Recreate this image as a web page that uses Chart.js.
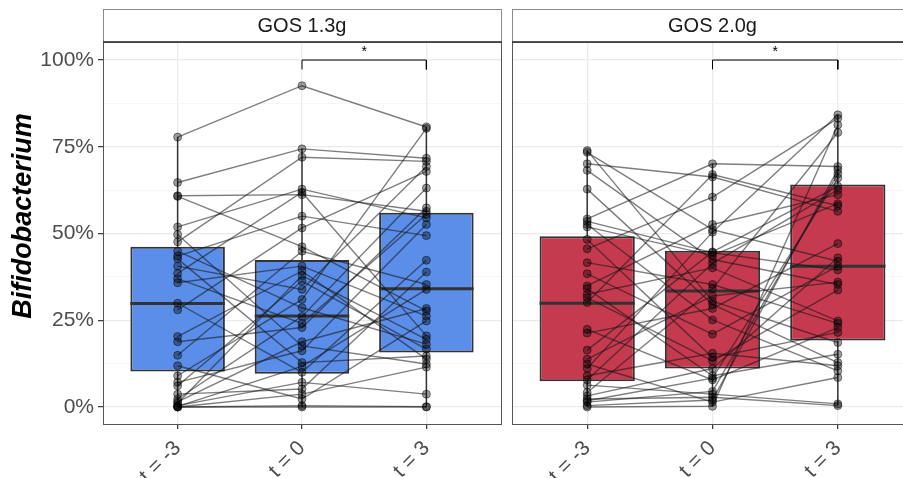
<!DOCTYPE html>
<html>
<head>
<meta charset="utf-8">
<script src="https://cdn.jsdelivr.net/npm/chart.js@4.4.0/dist/chart.umd.min.js"></script>
<style>
  html, body { margin: 0; padding: 0; background: #fff; width: 903px; height: 478px; overflow: hidden; }
  .panel { position: absolute; top: 0; }
</style>
</head>
<body>
<canvas id="panel1" class="panel" width="506" height="478" style="left:0"></canvas>
<canvas id="panel2" class="panel" width="420" height="478" style="left:506px"></canvas>
<script>
// categories and facet names
const timeLabels = ['t = -3', 't = 0', 't = 3'];
const panelLabels = ['GOS 1.3g', 'GOS 2.0g'];
const yTicks = [0, 0.25, 0.5, 0.75, 1];
const yMinorTicks = [0.125, 0.375, 0.625, 0.875];

// per-subject relative abundance, GOS 1.3g (same index = same subject)
const gos13Pre  = [0.778, 0.647, 0.609, 0.607, 0.519, 0.497, 0.476, 0.449, 0.435, 0.427, 0.406, 0.385, 0.370, 0.358, 0.299, 0.280,
                   0.203, 0.188, 0.149, 0.119, 0.090, 0.071, 0.061, 0.037, 0.023, 0.015, 0.011, 0.004, 0.002, 0.000, 0.000, 0.000];
const gos13Base = [0.926, 0.744, 0.612, 0.462, 0.628, 0.176, 0.720, 0.286, 0.550, 0.128, 0.339, 0.619, 0.241, 0.406, 0.100, 0.516,
                   0.392, 0.229, 0.449, 0.023, 0.310, 0.162, 0.363, 0.052, 0.261, 0.188, 0.379, 0.071, 0.117, 0.037, 0.004, 0.000];
const gos13Post = [0.807, 0.717, 0.564, 0.277, 0.545, 0.124, 0.708, 0.181, 0.494, 0.147, 0.693, 0.205, 0.555, 0.262, 0.423, 0.679,
                   0.138, 0.574, 0.353, 0.248, 0.803, 0.526, 0.167, 0.389, 0.631, 0.284, 0.195, 0.037, 0.339, 0.115, 0.001, 0.000];

// per-subject relative abundance, GOS 2.0g
const gos20Pre  = [0.739, 0.734, 0.701, 0.682, 0.628, 0.542, 0.535, 0.526, 0.519, 0.483, 0.456, 0.416, 0.384, 0.349, 0.341, 0.325, 0.315,
                   0.301, 0.224, 0.213, 0.164, 0.138, 0.124, 0.111, 0.090, 0.078, 0.063, 0.042, 0.032, 0.023, 0.018, 0.014, 0.004, 0.000];
const gos20Base = [0.305, 0.511, 0.663, 0.425, 0.296, 0.701, 0.445, 0.251, 0.437, 0.143, 0.605, 0.353, 0.210, 0.526, 0.090, 0.401, 0.133,
                   0.670, 0.078, 0.284, 0.447, 0.320, 0.014, 0.504, 0.155, 0.414, 0.037, 0.341, 0.111, 0.028, 0.083, 0.045, 0.020, 0.002];
const gos20Post = [0.186, 0.420, 0.564, 0.353, 0.128, 0.693, 0.395, 0.104, 0.586, 0.215, 0.832, 0.241, 0.406, 0.612, 0.152, 0.248, 0.337,
                   0.580, 0.229, 0.471, 0.636, 0.360, 0.085, 0.842, 0.119, 0.626, 0.009, 0.791, 0.430, 0.004, 0.660, 0.672, 0.684, 0.813];

// boxplot statistics
const gos13Q1 = [0.102, 0.096, 0.157];
const gos13Median = [0.298, 0.262, 0.341];
const gos13Q3 = [0.462, 0.424, 0.560];
const gos13WhiskerLo = [0.000, 0.000, 0.000];
const gos13WhiskerHi = [0.778, 0.744, 0.807];

const gos20Q1 = [0.074, 0.111, 0.192];
const gos20Median = [0.299, 0.334, 0.406];
const gos20Q3 = [0.492, 0.450, 0.641];
const gos20WhiskerLo = [0.000, 0.002, 0.004];
const gos20WhiskerHi = [0.739, 0.701, 0.842];

// significance bracket (t = 0 vs t = 3)
const sigFrom = [2, 2];
const sigTo = [3, 3];
const sigLevel = [1.0, 1.0];
const sigLabel = ['*', '*'];

const FONT = "'Liberation Sans', Arial, sans-serif";
const GREY30 = '#4d4d4d';

// draws the strip, panel border, medians/whiskers and labels
const facetPlugin = {
    id: 'facet',
    beforeDatasetDraw(chart, args, opts) {
        if (args.index !== 0) return;
        const ctx = chart.ctx;
        const y = chart.scales.y;
        const meta = chart.getDatasetMeta(0);
        ctx.save();
        ctx.strokeStyle = '#333333';
        ctx.lineWidth = 1.5;
        meta.data.forEach(function(bar, i) {
            ctx.beginPath();
            ctx.moveTo(bar.x, y.getPixelForValue(opts.q3[i]));
            ctx.lineTo(bar.x, y.getPixelForValue(opts.hi[i]));
            ctx.moveTo(bar.x, y.getPixelForValue(opts.q1[i]));
            ctx.lineTo(bar.x, y.getPixelForValue(opts.lo[i]));
            ctx.stroke();
        });
        ctx.restore();
    },
    afterDatasetDraw(chart, args, opts) {
        if (args.index !== 0) return;
        const ctx = chart.ctx;
        const y = chart.scales.y;
        const meta = chart.getDatasetMeta(0);
        ctx.save();
        ctx.strokeStyle = '#333333';
        ctx.lineWidth = 3;
        meta.data.forEach(function(bar, i) {
            const py = y.getPixelForValue(opts.median[i]);
            ctx.beginPath();
            ctx.moveTo(bar.x - bar.width / 2, py);
            ctx.lineTo(bar.x + bar.width / 2, py);
            ctx.stroke();
        });
        ctx.restore();
    },
    afterDraw(chart, args, opts) {
        const ctx = chart.ctx;
        const area = chart.chartArea;
        const x = chart.scales.x;
        const y = chart.scales.y;
        ctx.save();

        // significance stars
        ctx.fillStyle = '#000';
        ctx.font = '14px ' + FONT;
        ctx.textAlign = 'center';
        ctx.textBaseline = 'middle';
        ctx.fillText(opts.star, x.getPixelForValue(opts.starX), y.getPixelForValue(opts.starY) + 3);

        // panel border
        ctx.strokeStyle = '#555555';
        ctx.lineWidth = 1;
        ctx.strokeRect(Math.round(area.left) + 0.5, Math.round(area.top) + 0.5,
                       Math.round(area.right - area.left), Math.round(area.bottom - area.top));

        // strip
        const top = 9.5;
        ctx.strokeStyle = '#8a8a8a';
        ctx.strokeRect(Math.round(area.left) + 0.5, top, Math.round(area.right - area.left), area.top - top);
        ctx.strokeStyle = '#333333';
        ctx.lineWidth = 1.5;
        ctx.beginPath();
        ctx.moveTo(area.left, area.top);
        ctx.lineTo(area.right + 1, area.top);
        ctx.stroke();
        ctx.fillStyle = '#1a1a1a';
        ctx.font = '20px ' + FONT;
        ctx.fillText(opts.strip, (area.left + area.right) / 2, 26);

        // y axis title
        if (opts.yTitle) {
            ctx.translate(24, 216);
            ctx.rotate(-Math.PI / 2);
            ctx.font = 'italic bold 27px ' + FONT;
            ctx.fillStyle = '#000';
            ctx.fillText(opts.yTitle, 0, 0);
        }
        ctx.restore();
    }
};

function buildDatasets(pre, base, post, q1, q3, fill) {
    const datasets = [];

    // the boxes, as floating bars
    datasets.push({
        type: 'bar',
        data: q1.map(function(v, i) { return { x: i + 1, y: [v, q3[i]] }; }),
        backgroundColor: fill,
        borderColor: '#333333',
        borderWidth: 2,
        borderSkipped: false,
        barPercentage: 0.76,
        categoryPercentage: 1,
        order: 3
    });

    // one line per subject
    pre.forEach(function(v, i) {
        datasets.push({
            type: 'line',
            data: [{ x: 1, y: v }, { x: 2, y: base[i] }, { x: 3, y: post[i] }],
            borderColor: 'rgba(20, 20, 20, 0.55)',
            borderWidth: 1.4,
            pointRadius: 0,
            fill: false,
            order: 2
        });
    });

    // the points
    const pts = [];
    [pre, base, post].forEach(function(arr, k) {
        arr.forEach(function(v) { pts.push({ x: k + 1, y: v }); });
    });
    datasets.push({
        type: 'scatter',
        data: pts,
        pointRadius: 4,
        backgroundColor: 'rgba(0, 0, 0, 0.38)',
        borderColor: 'rgba(0, 0, 0, 0.45)',
        borderWidth: 1,
        order: 1
    });

    // significance bracket
    datasets.push({
        type: 'line',
        data: [{ x: sigFrom[0], y: sigLevel[0] - 0.027 }, { x: sigFrom[0], y: sigLevel[0] },
               { x: sigTo[0], y: sigLevel[0] }, { x: sigTo[0], y: sigLevel[0] - 0.027 }],
        borderColor: '#000',
        borderWidth: 1,
        pointRadius: 0,
        fill: false,
        order: 0
    });
    return datasets;
}

function isMajor(v) {
    return yTicks.some(function(t) { return Math.abs(t - v) < 1e-6; });
}

function makePanel(canvasId, cfg) {
    const ctx = document.getElementById(canvasId);
    return new Chart(ctx, {
        type: 'bar',
        data: { datasets: buildDatasets(cfg.pre, cfg.base, cfg.post, cfg.q1, cfg.q3, cfg.fill) },
        plugins: [facetPlugin],
        options: {
            responsive: false,
            animation: false,
            layout: { padding: { left: cfg.padLeft, right: cfg.padRight, top: 42, bottom: 0 } },
            plugins: {
                legend: { display: false },
                tooltip: { enabled: false },
                facet: {
                    q1: cfg.q1, q3: cfg.q3, median: cfg.median, lo: cfg.lo, hi: cfg.hi,
                    strip: cfg.strip, yTitle: cfg.yTitle,
                    star: sigLabel[0], starX: (sigFrom[0] + sigTo[0]) / 2, starY: sigLevel[0] + 0.03
                }
            },
            scales: {
                x: {
                    type: 'linear',
                    min: 0.4,
                    max: 3.6,
                    offset: false,
                    afterBuildTicks: function(scale) {
                        scale.ticks = timeLabels.map(function(l, i) { return { value: i + 1 }; });
                    },
                    afterFit: function(scale) { scale.height = 54; },
                    border: { display: false },
                    grid: {
                        offset: false,
                        color: '#ebebeb',
                        lineWidth: 1.3,
                        tickLength: 5,
                        tickColor: '#333333',
                        tickWidth: 1.2
                    },
                    ticks: {
                        autoSkip: false,
                        minRotation: 45,
                        maxRotation: 45,
                        padding: 7,
                        color: GREY30,
                        font: { family: FONT, size: 21 },
                        callback: function(value, index) { return timeLabels[index]; }
                    }
                },
                y: {
                    type: 'linear',
                    min: -0.049,
                    max: 1.052,
                    afterBuildTicks: function(scale) {
                        scale.ticks = yTicks.concat(yMinorTicks).sort().map(function(v) { return { value: v }; });
                    },
                    afterFit: function(scale) { scale.width = cfg.yWidth; },
                    border: { display: false },
                    grid: {
                        color: function(c) { return isMajor(c.tick.value) ? '#ebebeb' : '#f4f4f4'; },
                        lineWidth: function(c) { return isMajor(c.tick.value) ? 1.3 : 0.8; },
                        drawTicks: cfg.showY,
                        tickLength: 5,
                        tickColor: function(c) { return isMajor(c.tick.value) ? '#333333' : 'rgba(0,0,0,0)'; },
                        tickWidth: 1.2
                    },
                    ticks: {
                        display: cfg.showY,
                        padding: 4,
                        color: GREY30,
                        font: { family: FONT, size: 21 },
                        callback: function(value) { return isMajor(value) ? Math.round(value * 100) + '%' : ''; }
                    }
                }
            }
        }
    });
}

makePanel('panel1', {
    pre: gos13Pre, base: gos13Base, post: gos13Post,
    q1: gos13Q1, q3: gos13Q3, median: gos13Median, lo: gos13WhiskerLo, hi: gos13WhiskerHi,
    fill: '#5a8ee8', strip: panelLabels[0], yTitle: 'Bifidobacterium',
    padLeft: 0, padRight: 2, yWidth: 103, showY: true
});

makePanel('panel2', {
    pre: gos20Pre, base: gos20Base, post: gos20Post,
    q1: gos20Q1, q3: gos20Q3, median: gos20Median, lo: gos20WhiskerLo, hi: gos20WhiskerHi,
    fill: '#c63a50', strip: panelLabels[1], yTitle: null,
    padLeft: 6, padRight: 13, yWidth: 0, showY: false
});
</script>
</body>
</html>
